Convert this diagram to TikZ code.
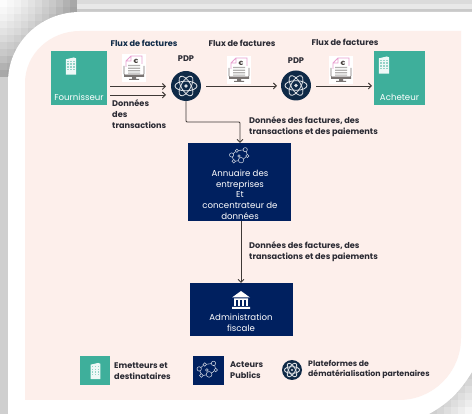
\documentclass[tikz,border=0pt]{standalone}
\usepackage{fontspec}
\setmainfont{Poppins}
\usetikzlibrary{arrows.meta}
\definecolor{teal1}{HTML}{3EAF9B}
\definecolor{navy1}{HTML}{00205F}
\definecolor{navy2}{HTML}{0F2A47}
\definecolor{pink1}{HTML}{FDEFEB}
\definecolor{txt1}{HTML}{2A2A33}
\definecolor{line1}{HTML}{3F3936}
\definecolor{pinkdoc}{HTML}{E8A0D0}
\tikzset{
 x=1pt,y=-1pt,
 lbl/.style={font=\fontsize{8.2}{10.7}\selectfont\bfseries,text=txt1,inner sep=0pt,align=left,anchor=west},
 lblsmall/.style={lbl,font=\fontsize{7.8}{10.7}\selectfont\bfseries},
 boxtext/.style={font=\fontsize{8.6}{10.7}\selectfont,text=white,inner sep=0pt,align=center},
 tealbox/.style={fill=teal1,draw=none,inner sep=0pt},
 navybox/.style={fill=navy1,draw=none,inner sep=0pt},
 pdpnode/.style={circle,fill=navy2,draw=none,inner sep=0pt},
 flow/.style={draw=line1,line width=.9pt,-{Straight Barb[length=3pt,width=6pt]}},
}
\newcommand{\bldg}[2]{\begin{scope}[shift={(#1)},scale=#2]
 \fill[white,opacity=.92] (-5.5,9) -- (-5.5,-7) -- (3,-9) -- (5.5,-8) -- (5.5,9) -- cycle;
 \foreach \yy in {-5,-2,1,4} \foreach \xx in {-3,0,3} \fill[teal1!55] (\xx-.7,\yy-.7) rectangle (\xx+.7,\yy+.7);
\end{scope}}
\newcommand{\atom}[2]{\begin{scope}[shift={(#1)},scale=#2]
 \foreach \an in {0,60,120} \draw[white!85!navy2,line width=.85pt,rotate=\an] (0,0) ellipse [x radius=10.5,y radius=4.6];
 \fill[white!85!navy2] (0,0) circle (1.7);
\end{scope}}
\newcommand{\netw}[2]{\begin{scope}[shift={(#1)},scale=#2,draw=white!80!navy1,line width=.55pt]
 \draw (-8,-1) circle (2) (-3,-5) circle (1.6) (5,-6) circle (2) (7,0) circle (1.6) (-6,5) circle (1.7) (1,4) circle (2.6) (-1,0) circle (1.2);
 \draw (-6.6,-2.2) -- (-4.2,-4.2) (-1.4,-5.2) -- (3,-5.8) (6,-4.3) -- (6.7,-1.5) (5.7,.9) -- (3.3,2.8) (-4.3,5) -- (-1.6,4.4) (-7.4,.9) -- (-6.3,3.4);
\end{scope}}
\newcommand{\docic}[1]{\begin{scope}[shift={(#1)}]
 \fill[white] (-12,-14) rectangle (12,14);
 \draw[line1!70,line width=.7pt,rounded corners=1pt] (-10,-2) -- (-10,7) -- (10,7) -- (10,-2);
 \fill[line1!70] (-10,7) rectangle (10,9) (-2,9) rectangle (2,11) (-5,11) rectangle (5,12);
 \fill[white] (-7,-11) rectangle (8,6);
 \draw[pinkdoc,line width=.8pt] (-3,-12) -- (8,-12) -- (8,-4) (-3,-12) -- (-8,-7) -- (-8,-1) (-3,-12) -- (-3,-7) -- (-8,-7);
 \node[inner sep=0pt,text=line1,font=\fontsize{6}{6}\selectfont\bfseries] at (2,-7) {€};
 \fill[line1!40] (-6,-3) rectangle (6,-1.8) (-6,-.4) rectangle (6,.8) (-6,2.2) rectangle (6,3.4) (-6,4.6) rectangle (6,5.6);
\end{scope}}
\begin{document}
\begin{tikzpicture}
\useasboundingbox (0,0) rectangle (472,414);
% grey background
\fill[gray!38] (0,0) rectangle (472,414);
\fill[gray!28] (0,0) rectangle (472,4);
\fill[gray!18] (0,4) rectangle (472,9);
\fill[gray!42] (0,9) rectangle (472,12);
% mosaic top-left
\foreach \ii in {0,...,10} \foreach \jj in {0,...,10} {
  \pgfmathsetmacro{\sh}{int(min(36,2*(\ii+\jj)+.14*(\ii*\ii+\jj*\jj)+1))}
  \fill[black!\sh!white] (\ii*7,\jj*7) rectangle ++(7.1,7.1);
}
% mosaic bottom-right
\foreach \ii in {0,...,5} \foreach \jj in {0,...,5} {
  \pgfmathsetmacro{\sh}{int(min(26,3*(\ii+\jj)+4))}
  \fill[black!\sh!white] (472-\ii*7-7,414-\jj*7-7) rectangle ++(7.1,7.1);
}
% white frame
\fill[white] (8,414) -- (8,82) .. controls (8,43.3) and (40.2,12) .. (80,12) -- (472,12) -- (472,372) .. controls (458,395) and (445,405) .. (429,414) -- cycle;
% pink panel
\fill[pink1] (25,400) -- (25,83) .. controls (25,54.3) and (49.6,31) .. (80,31) -- (461,31) -- (461,338) .. controls (461,372.2) and (433.2,400) .. (399,400) -- cycle;
% main nodes
\node[tealbox,minimum width=56pt,minimum height=54pt] (four) at (79,78) {};
\node[tealbox,minimum width=51pt,minimum height=54pt] (ach) at (399.5,78) {};
\node[pdpnode,minimum size=30pt] (pdpa) at (186,86) {};
\node[pdpnode,minimum size=30pt] (pdpb) at (296,85.5) {};
\node[navybox,minimum width=103pt,minimum height=78pt] (ann) at (239.5,182) {};
\node[navybox,minimum width=103pt,minimum height=53pt] (adm) at (241.5,309.5) {};
\node[boxtext] (fourt) at (79,97) {Fournisseur};
\node[boxtext] (acht) at (399.5,97) {Acheteur};
\node[boxtext] (annt) at (240,194.5) {Annuaire des\\entreprises\\Et\\concentrateur de\\données};
\node[boxtext] (admt) at (241,322.5) {Administration\\fiscale};
\bldg{71,66}{.95}
\bldg{384,65}{.95}
\atom{186,86}{1.05}
\atom{296,85.5}{1.05}
\netw{240,156}{1.05}
\begin{scope}[shift={(241,300)}]
 \fill[white] (-9,-2.5) -- (0,-9) -- (9,-2.5) -- cycle (-9,7) rectangle (9,9) (-7,-1.5) rectangle (7,0);
 \foreach \xx in {-6,-2,2,6} \fill[white] (\xx-1,0) rectangle (\xx+1,6);
\end{scope}
\docic{134,68}
\docic{239,70}
\docic{341,70}
\node[lbl,anchor=center] (pa) at (186,59) {PDP};
\node[lbl,anchor=center] (pb) at (296,60.5) {PDP};
\node[lbl,anchor=center,text=navy2] (fa) at (144,43) {Flux de factures};
\node[lbl,anchor=center] (fb) at (242,43) {Flux de factures};
\node[lbl,anchor=center] (fc) at (345,42) {Flux de factures};
\node[lbl] (dt) at (112,114) {Données\\des\\transactions};
\node[lbl] (da) at (249,126.5) {Données des factures, des\\transactions et des paiements};
\node[lbl] (db) at (249,251.5) {Données des factures, des\\transactions et des paiements};
% connectors
\coordinate (s1) at (110,86.5);
\coordinate (s2) at (110,95);
\coordinate (e1) at (166,86.5);
\coordinate (e2) at (166,95);
\draw[flow] (s1) -- (e1);
\draw[flow] (s2) -- (e2);
\coordinate (s4) at (206,86);
\coordinate (e4) at (277,86);
\draw[flow] (s4) -- (e4);
\coordinate (s3) at (316,86);
\coordinate (e3) at (372,86);
\draw[flow] (s3) -- (e3);
\draw[flow,rounded corners=1pt] (pdpa.south) -- (186,122) -- (240,122) -- (240,143);
\draw[flow] (241,221) -- (241,283);
% legend
\node[tealbox,minimum width=30pt,minimum height=29pt] (la) at (95,370.5) {};
\node[navybox,minimum width=31pt,minimum height=29pt] (lb) at (208.5,370.5) {};
\node[pdpnode,minimum size=20pt] (lc) at (292,370) {};
\bldg{95.5,371}{.9}
\netw{208,370}{1.1}
\atom{292,370}{.72}
\node[lbl] (lta) at (114,371) {Emetteurs et\\destinataires};
\node[lbl] (ltb) at (230,370.5) {Acteurs\\Publics};
\node[lblsmall] (ltc) at (308,369.5) {Plateformes de\\dématérialisation partenaires};
\end{tikzpicture}
\end{document}
